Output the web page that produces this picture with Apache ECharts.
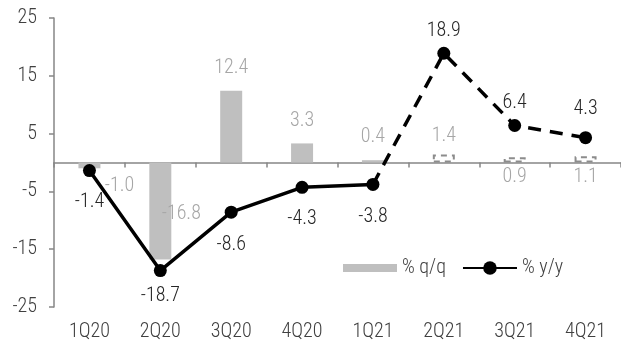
<!DOCTYPE html>
<html>
<head>
<meta charset="utf-8">
<script src="https://cdn.jsdelivr.net/npm/echarts@6/dist/echarts.min.js"></script>
<style>
  html, body { margin: 0; padding: 0; background: #fff; }
  #main { width: 621px; height: 343px; }
</style>
</head>
<body>
<div id="main"></div>
<script>
const categories = ['1Q20', '2Q20', '3Q20', '4Q20', '1Q21', '2Q21', '3Q21', '4Q21'];
const qoq = [-1.0, -16.8, 12.4, 3.3, 0.4, 1.4, 0.9, 1.1];
const yoy = [-1.4, -18.7, -8.6, -4.3, -3.8, 18.9, 6.4, 4.3];
const forecastFrom = 5; // 2Q21 onwards is forecast
const yMin = -25, yMax = 25, yStep = 10;

const FONT = "'Roboto Condensed', Roboto, 'Liberation Sans', sans-serif";
const W = 300;
const FS = 20;

// where each label sits
const barLabelPos = [
    { position: 'bottom', distance: 8, offset: [30, 0] },
    { position: 'inside', offset: [21, 3] },
    { position: 'top', distance: 13 },
    { position: 'top', distance: 12 },
    { position: 'top', distance: 13 },
    { position: 'top', distance: 8 },
    { position: 'bottom', distance: 4 },
    { position: 'bottom', distance: 4 }
];
const lineLabelDist = [15, 9, 16, 15, 16, 6, 6, 12];

const barData = qoq.map(function (v, i) {
    const item = {
        value: v,
        label: Object.assign({ show: true }, barLabelPos[i])
    };
    if (i >= forecastFrom) {
        item.itemStyle = {
            color: 'rgba(0,0,0,0)',
            borderColor: '#8c8c8c',
            borderWidth: 2,
            borderType: [6, 5]
        };
    }
    return item;
});

const solidData = yoy.map(function (v, i) {
    return i < forecastFrom ? { value: v, label: { distance: lineLabelDist[i] } } : null;
});
const dashedData = yoy.map(function (v, i) {
    if (i === forecastFrom - 1) return { value: v, symbol: 'none', label: { show: false } };
    return i >= forecastFrom ? { value: v, label: { distance: lineLabelDist[i] } } : null;
});

const lineLabel = {
    show: true,
    fontSize: FS,
    color: '#262626',
    fontFamily: FONT,
    fontWeight: W,
    formatter: function (p) { return p.value.toFixed(1); }
};

const option = {
    animation: false,
    textStyle: { fontFamily: FONT, fontWeight: W },
    grid: { left: 54, right: -4, top: 18, bottom: 36 },
    legend: {
        left: 338,
        top: 253,
        itemWidth: 54,
        itemHeight: 17,
        itemGap: 16,
        textStyle: { fontFamily: FONT, fontWeight: W, fontSize: FS, color: '#404040' },
        data: [
            { name: '% q/q', icon: 'path://M0,0 h54 v8 h-54 z' },
            { name: '% y/y' }
        ]
    },
    xAxis: [
        {
            type: 'category',
            data: categories,
            position: 'bottom',
            axisLine: { onZero: true, lineStyle: { color: '#868686', width: 1.5 } },
            axisTick: { show: true, length: 5, lineStyle: { color: '#868686', width: 1.5 } },
            axisLabel: { show: false }
        },
        {
            type: 'category',
            data: categories,
            position: 'bottom',
            axisLine: { show: false, onZero: false },
            axisTick: { show: false },
            axisLabel: { margin: 15, fontSize: FS, color: '#404040', fontFamily: FONT, fontWeight: W }
        }
    ],
    yAxis: {
        type: 'value',
        min: yMin,
        max: yMax,
        interval: yStep,
        axisLine: { show: true, lineStyle: { color: '#868686', width: 1.5 } },
        axisTick: { show: true, length: 5, lineStyle: { color: '#868686', width: 1.5 } },
        splitLine: { show: false },
        axisLabel: { margin: 17, fontSize: FS, color: '#404040', fontFamily: FONT, fontWeight: W }
    },
    series: [
        {
            name: '% q/q',
            type: 'bar',
            barWidth: 22,
            itemStyle: { color: '#bfbfbf' },
            label: {
                show: true,
                fontSize: FS,
                color: '#a6a6a6',
                fontFamily: FONT,
                fontWeight: W,
                formatter: function (p) { return p.value.toFixed(1); }
            },
            data: barData
        },
        {
            name: '% y/y',
            type: 'line',
            symbol: 'circle',
            symbolSize: 13,
            itemStyle: { color: '#000' },
            lineStyle: { color: '#000', width: 3.5 },
            label: Object.assign({ position: 'bottom' }, lineLabel),
            data: solidData,
            z: 5
        },
        {
            name: '% y/y',
            type: 'line',
            symbol: 'circle',
            symbolSize: 13,
            itemStyle: { color: '#000' },
            lineStyle: { color: '#000', width: 3.5, type: [13, 9] },
            label: Object.assign({ position: 'top' }, lineLabel),
            data: dashedData,
            z: 5
        }
    ]
};

const myChart = echarts.init(document.getElementById('main'));
myChart.setOption(option);
</script>
</body>
</html>
